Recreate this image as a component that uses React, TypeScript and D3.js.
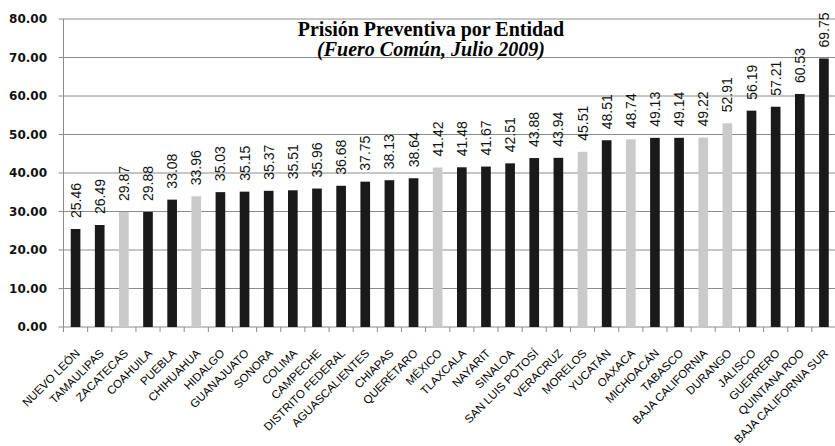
import React from "react";
import * as d3 from "d3";

const categories = [
  "NUEVO LEÓN", "TAMAULIPAS", "ZACATECAS", "COAHUILA", "PUEBLA", "CHIHUAHUA", "HIDALGO",
  "GUANAJUATO", "SONORA", "COLIMA", "CAMPECHE", "DISTRITO FEDERAL", "AGUASCALIENTES", "CHIAPAS",
  "QUERÉTARO", "MÉXICO", "TLAXCALA", "NAYARIT", "SINALOA", "SAN LUIS POTOSÍ", "VERACRUZ",
  "MORELOS", "YUCATÁN", "OAXACA", "MICHOACÁN", "TABASCO", "BAJA CALIFORNIA", "DURANGO",
  "JALISCO", "GUERRERO", "QUINTANA ROO", "BAJA CALIFORNIA SUR",
];
const values = [
  25.46, 26.49, 29.87, 29.88, 33.08, 33.96, 35.03, 35.15, 35.37, 35.51, 35.96, 36.68, 37.75,
  38.13, 38.64, 41.42, 41.48, 41.67, 42.51, 43.88, 43.94, 45.51, 48.51, 48.74, 49.13, 49.14,
  49.22, 52.91, 56.19, 57.21, 60.53, 69.75,
];
const highlighted = ["ZACATECAS", "CHIHUAHUA", "MÉXICO", "MORELOS", "OAXACA", "BAJA CALIFORNIA", "DURANGO"];
const yTicks = [0, 10, 20, 30, 40, 50, 60, 70, 80];
const title = "Prisión Preventiva por Entidad";
const subtitle = "(Fuero Común, Julio 2009)";

export default function App() {
  const W = 835, H = 446;
  const left = 63.5, right = 836, top = 19, bottom = 327;
  const x = d3.scaleBand<string>().domain(categories).range([left, right]).paddingInner(0.6).paddingOuter(0.3);
  const y = d3.scaleLinear().domain([0, 80]).range([bottom, top]);
  const step = x.step();
  const boundaries = d3.range(categories.length + 1).map((i) => left + i * step);
  const sans = "'Liberation Sans', Arial, sans-serif";
  const serif = "'Liberation Serif', 'Times New Roman', serif";
  return (
    <svg width={W} height={H} style={{ position: "absolute", left: 0, top: 0, background: "#fff" }}>
      {yTicks.map((t) => (
        <g key={t}>
          <line x1={left - 5} x2={right} y1={y(t)} y2={y(t)} stroke="#8c8c8c" strokeWidth={1} />
          <text x={47} y={y(t)} dy="0.36em" textAnchor="end" fontFamily="'DejaVu Sans', sans-serif" fontWeight="bold" fontSize={12} fill="#111">
            {t.toFixed(2)}
          </text>
        </g>
      ))}
      <line x1={left} x2={left} y1={top} y2={bottom} stroke="#8c8c8c" />
      {boundaries.map((b, i) => (
        <line key={i} x1={b} x2={b} y1={bottom} y2={bottom + 5} stroke="#8c8c8c" />
      ))}
      {categories.map((c, i) => {
        const v = values[i];
        const cx = (x(c) as number) + x.bandwidth() / 2;
        return (
          <g key={c}>
            <rect x={x(c)} y={y(v)} width={x.bandwidth()} height={bottom - y(v)} fill={highlighted.includes(c) ? "#cacaca" : "#1a1a1a"} />
            <text transform={`translate(${cx},${y(v) - 11}) rotate(-90)`} dy="0.36em" fontFamily={sans} fontSize={14} fill="#111">
              {v.toFixed(2)}
            </text>
            <text transform={`translate(${cx + 5},${bottom + 27}) rotate(-45)`} textAnchor="end" fontFamily={sans} fontSize={11.5} fill="#000">
              {c}
            </text>
          </g>
        );
      })}
      <text x={431} y={36} textAnchor="middle" fontFamily={serif} fontWeight="bold" fontSize={20} fill="#000">
        {title}
      </text>
      <text x={431} y={56} textAnchor="middle" fontFamily={serif} fontWeight="bold" fontStyle="italic" fontSize={20} fill="#000">
        {subtitle}
      </text>
    </svg>
  );
}
